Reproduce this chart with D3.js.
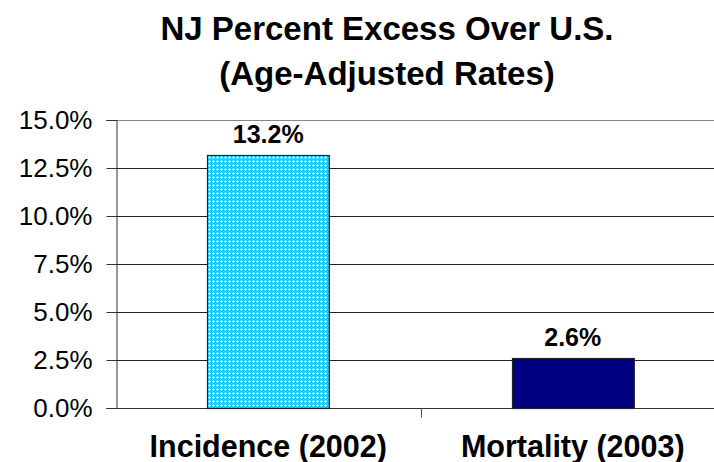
<!DOCTYPE html>
<html>
<head>
<meta charset="utf-8">
<script src="https://cdnjs.cloudflare.com/ajax/libs/d3/7.8.5/d3.min.js"></script>
<style>
body { margin:0; background:#fff; }
text { font-family: "Liberation Sans", Arial, sans-serif; }
</style>
</head>
<body>
<div id="chart"></div>
<script>
var categories = ["Incidence (2002)", "Mortality (2003)"];
var values = [13.2, 2.6];
var valueLabels = ["13.2%", "2.6%"];
var yTicks = [0, 2.5, 5, 7.5, 10, 12.5, 15];
var titleLines = ["NJ Percent Excess Over U.S.", "(Age-Adjusted Rates)"];

var width = 714, height = 462;
var margin = {t:120, r:-11, b:54, l:116};

var svg = d3.select("#chart").append("svg")
    .attr("width", width)
    .attr("height", height);

// cyan lattice fill
var defs = svg.append("defs");
var pat = defs.append("pattern")
    .attr("id", "lattice")
    .attr("width", 4).attr("height", 4)
    .attr("patternUnits", "userSpaceOnUse");
pat.append("rect").attr("width", 4).attr("height", 4).attr("fill", "#22c8f8");
pat.append("rect").attr("x", 1).attr("y", 0).attr("width", 1).attr("height", 3).attr("fill", "#aeeafc");
pat.append("rect").attr("x", 0).attr("y", 1).attr("width", 3).attr("height", 1).attr("fill", "#aeeafc");
pat.append("rect").attr("x", 1).attr("y", 1).attr("width", 1).attr("height", 1).attr("fill", "#ffffff");

var x = d3.scaleBand()
    .domain(categories)
    .range([margin.l, width - margin.r])
    .paddingInner(0.6)
    .paddingOuter(0.3);

var y = d3.scaleLinear()
    .domain([0, 15])
    .range([height - margin.b, margin.t]);

// title
svg.selectAll(".title").data(titleLines).enter().append("text")
    .attr("x", 387)
    .attr("y", function(d, i){ return 40 + i*45; })
    .attr("text-anchor", "middle")
    .attr("font-size", 33)
    .attr("font-weight", "bold")
    .text(function(d){ return d; });

// gridlines
svg.selectAll(".grid").data(yTicks.filter(function(d){ return d > 0; })).enter().append("line")
    .attr("x1", margin.l).attr("x2", width)
    .attr("y1", function(d){ return Math.round(y(d)) + 0.5; })
    .attr("y2", function(d){ return Math.round(y(d)) + 0.5; })
    .attr("stroke", function(d){ return d === 15 ? "#888" : "#222"; })
    .attr("stroke-width", 1);

// y axis
var yAxis = d3.axisLeft(y)
    .tickValues(yTicks)
    .tickSize(10)
    .tickPadding(14)
    .tickFormat(function(d){ return d3.format(".1f")(d) + "%"; });

var gy = svg.append("g")
    .attr("transform", "translate(" + (margin.l + 0.5) + ",0)")
    .call(yAxis);
gy.select(".domain").attr("stroke", "#333");
gy.selectAll(".tick line").attr("stroke", "#333");
gy.selectAll(".tick text")
    .attr("font-size", 26)
    .attr("font-family", "Liberation Sans, Arial, sans-serif")
    .attr("fill", "#000");

// x axis
var base = Math.round(y(0)) + 0.5;
svg.append("line")
    .attr("x1", margin.l).attr("x2", width)
    .attr("y1", base).attr("y2", base)
    .attr("stroke", "#333");
svg.selectAll(".xtick").data(categories.slice(1)).enter().append("line")
    .attr("x1", function(d){ return Math.round(x(d) - x.step()*x.paddingInner()/2) + 0.5; })
    .attr("x2", function(d){ return Math.round(x(d) - x.step()*x.paddingInner()/2) + 0.5; })
    .attr("y1", base).attr("y2", base + 9)
    .attr("stroke", "#555");

svg.selectAll(".xlab").data(categories).enter().append("text")
    .attr("x", function(d){ return x(d) + x.bandwidth()/2; })
    .attr("y", 457)
    .attr("text-anchor", "middle")
    .attr("font-size", 30.5)
    .attr("font-weight", "bold")
    .text(function(d){ return d; });

// bars
svg.selectAll(".bar").data(values).enter().append("rect")
    .attr("x", function(d, i){ return Math.round(x(categories[i])) + 0.5; })
    .attr("y", function(d){ return Math.round(y(d)) + 0.5; })
    .attr("width", x.bandwidth())
    .attr("height", function(d){ return Math.round(y(0)) - Math.round(y(d)); })
    .attr("fill", function(d, i){ return i === 0 ? "url(#lattice)" : "#000080"; })
    .attr("stroke", "#222")
    .attr("stroke-width", 1.2);

svg.selectAll(".vlab").data(values).enter().append("text")
    .attr("x", function(d, i){ return x(categories[i]) + x.bandwidth()/2; })
    .attr("y", function(d){ return y(d) - 12; })
    .attr("text-anchor", "middle")
    .attr("font-size", 25)
    .attr("font-weight", "bold")
    .text(function(d, i){ return valueLabels[i]; });
</script>
</body>
</html>
